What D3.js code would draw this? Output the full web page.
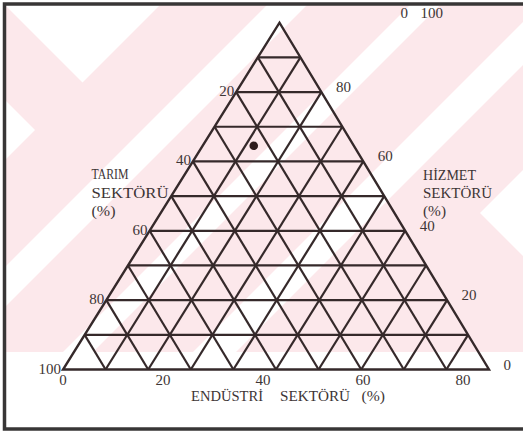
<!DOCTYPE html>
<html>
<head>
<meta charset="utf-8">
<script src="https://cdn.jsdelivr.net/npm/d3@7"></script>
<style>
  body { margin: 0; background: #fff; }
  svg { display: block; font-family: "Liberation Serif", "DejaVu Serif", serif; }
  text { fill: #3d3535; }
</style>
</head>
<body>
<svg id="ternary" width="523" height="433"></svg>
<script>
// grid every 10 %
const gridSteps = [10, 20, 30, 40, 50, 60, 70, 80, 90];
// tick labels on the three sides
const tarimTicks = [20, 40, 60, 80, 100];
const hizmetTicks = [80, 60, 40, 20, 0];
const endustriTicks = [0, 20, 40, 60, 80];
const apexTicks = ["0", "100"];
// the plotted country (%)
const pointTarim = [23.5];
const pointEndustri = [12];
const pointHizmet = [64.5];

document.addEventListener('DOMContentLoaded', _ => {
  const svg = d3.select("svg#ternary");
  const width = +svg.attr("width");
  const height = +svg.attr("height");

  // scanned page background: pink watermark with white diagonal gaps
  svg.append("clipPath").attr("id", "wm")
    .append("rect").attr("x", 6).attr("y", 5).attr("width", width).attr("height", 347);
  const wm = svg.append("g").attr("clip-path", "url(#wm)");
  wm.append("rect").attr("width", width).attr("height", height).attr("fill", "#fce8eb");
  const band = (a, b) => [[0, a], [a, 0], [b, 0], [0, b]];
  const gaps = [
    [[0, 0], [165, 0], [82.5, 82.5]],
    [[0, 95], [35, 130], [0, 165]],
    band(272, 312),
    band(415, 445),
    band(545, 588),
    [[523, 170], [480, 213], [523, 256]]
  ];
  wm.selectAll("polygon").data(gaps).enter().append("polygon")
    .attr("points", d => d.join(" "))
    .attr("fill", "#fff");

  // frame
  svg.append("rect")
    .attr("x", 4.5).attr("y", 4).attr("width", width + 20).attr("height", 425)
    .attr("fill", "none").attr("stroke", "#383636").attr("stroke-width", 3.5);

  // ternary projection: tarım -> bottom left, endüstri -> bottom right, hizmet -> top
  const xScale = d3.scaleLinear().domain([0, 100]).range([63, 489]);
  const yScale = d3.scaleLinear().domain([0, 100]).range([369.5, 22.7]);
  const apexShift = (279.5 - 63) / (489 - 63);
  const project = (t, e, h) => [xScale(e + h * apexShift), yScale(h)];

  const lines = gridSteps.flatMap(v => [
    [[100 - v, 0, v], [0, 100 - v, v]],
    [[100 - v, v, 0], [0, v, 100 - v]],
    [[v, 100 - v, 0], [v, 0, 100 - v]]
  ]);
  const chart = svg.append("g");
  chart.selectAll("line.grid").data(lines).enter().append("line")
    .attr("class", "grid")
    .attr("x1", d => project(...d[0])[0])
    .attr("y1", d => project(...d[0])[1])
    .attr("x2", d => project(...d[1])[0])
    .attr("y2", d => project(...d[1])[1])
    .attr("stroke", "#35292a")
    .attr("stroke-width", 2.2);
  chart.append("polygon")
    .attr("points", [project(100, 0, 0), project(0, 100, 0), project(0, 0, 100)].join(" "))
    .attr("fill", "none")
    .attr("stroke", "#35292a")
    .attr("stroke-width", 2.4)
    .attr("stroke-linejoin", "miter");

  // point
  chart.selectAll("circle").data(pointTarim).enter().append("circle")
    .attr("cx", (d, i) => project(d, pointEndustri[i], pointHizmet[i])[0])
    .attr("cy", (d, i) => project(d, pointEndustri[i], pointHizmet[i])[1])
    .attr("r", 4.3)
    .attr("fill", "#2e1c1c");

  const labels = svg.append("g")
    .attr("font-family", "Liberation Serif, DejaVu Serif, serif")
    .style("font-size", "15px");
  labels.selectAll("text.tarim").data(tarimTicks).enter().append("text")
    .attr("class", "tarim")
    .attr("text-anchor", "end")
    .attr("x", d => project(d, 0, 100 - d)[0] - 2)
    .attr("y", d => project(d, 0, 100 - d)[1] + 4)
    .text(d => d);
  labels.selectAll("text.hizmet").data(hizmetTicks).enter().append("text")
    .attr("class", "hizmet")
    .attr("x", d => project(0, 100 - d, d)[0] + 14.5)
    .attr("y", d => project(0, 100 - d, d)[1])
    .text(d => d);
  // bottom labels in the original are spread a little wider than the grid
  const bottomLabelScale = d3.scaleLinear().domain([0, 80]).range([63, 463]);
  labels.selectAll("text.endustri").data(endustriTicks).enter().append("text")
    .attr("class", "endustri")
    .attr("text-anchor", "middle")
    .attr("x", d => bottomLabelScale(d))
    .attr("y", 385)
    .text(d => d);
  const apex = project(0, 0, 100);
  labels.selectAll("text.apex").data(apexTicks).enter().append("text")
    .attr("class", "apex")
    .attr("x", (d, i) => apex[0] + 121 + i * 20)
    .attr("y", apex[1] - 5)
    .text(d => d);

  // axis titles
  const titles = [
    {t: "TARIM", x: 91.5, y: 179, w: 37},
    {t: "SEKTÖRÜ", x: 91.5, y: 198, w: 77},
    {t: "(%)", x: 91.5, y: 216, w: 24},
    {t: "HİZMET", x: 423, y: 180, w: 53},
    {t: "SEKTÖRÜ", x: 423, y: 198, w: 69},
    {t: "(%)", x: 423, y: 216, w: 23},
    {t: "ENDÜSTRİ", x: 191, y: 401, w: 72},
    {t: "SEKTÖRÜ", x: 280, y: 401, w: 70},
    {t: "(%)", x: 361.5, y: 401, w: 23.5}
  ];
  labels.selectAll("text.title").data(titles).enter().append("text")
    .attr("class", "title")
    .attr("x", d => d.x)
    .attr("y", d => d.y)
    .attr("textLength", d => d.w)
    .attr("lengthAdjust", "spacingAndGlyphs")
    .style("font-size", "14.5px")
    .text(d => d.t);
});
</script>
</body>
</html>
